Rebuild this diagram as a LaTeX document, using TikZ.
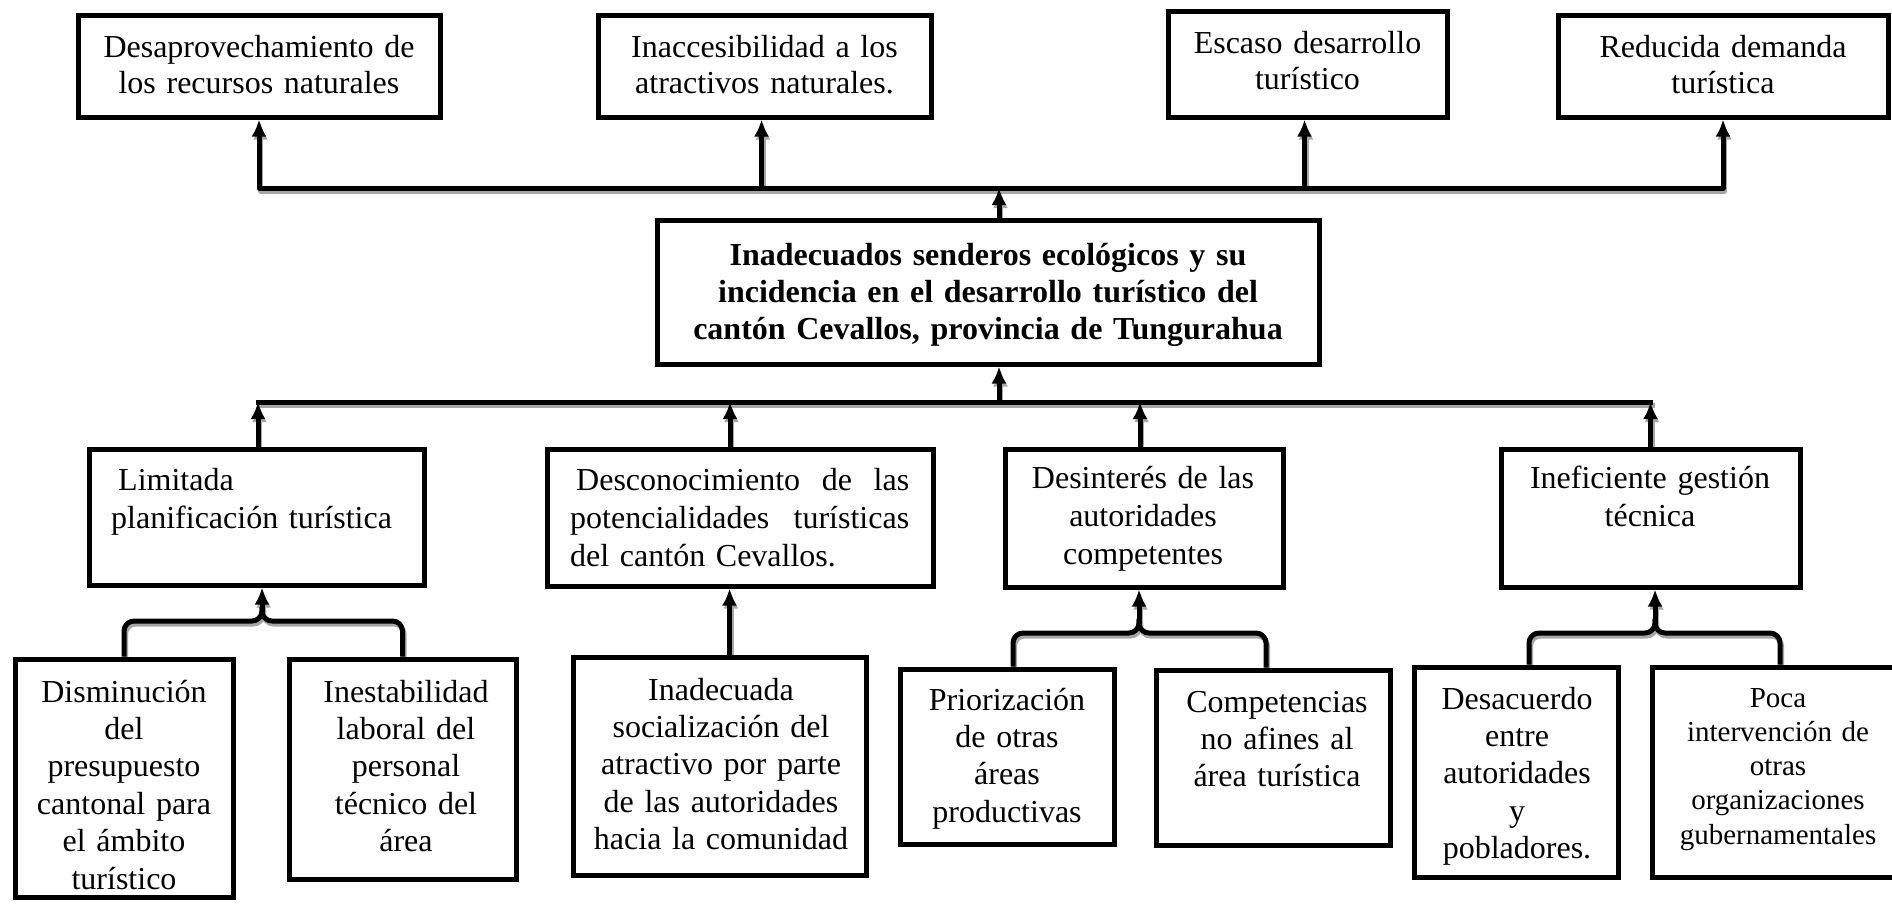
\documentclass[tikz,border=0pt]{standalone}
\usepackage{fontspec}
\setmainfont{Liberation Serif}
\usetikzlibrary{arrows.meta}
\pgfdeclarelayer{bg}
\pgfsetlayers{bg,main}
\newcommand\myftop{\fontsize{32}{36}\selectfont}
\newcommand\myfmain{\fontsize{32}{37.4}\selectfont}
\newcommand\myfmid{\fontsize{32}{38}\selectfont}
\newcommand\myfsml{\fontsize{29}{34.3}\selectfont}
\newcommand\drawconns[1]{%
\draw[#1,tips] (b1.south) -- (b1.south |- bus1) -- (b4.south |- bus1) -- (b4.south);
\draw[#1,tip] ([xshift=-3pt]b2.south |- bus1) -- ([xshift=-3pt]b2.south);
\draw[#1,tip] ([xshift=-3pt]b3.south |- bus1) -- ([xshift=-3pt]b3.south);
\draw[#1,tip] ([xshift=11pt]c.north) -- ([xshift=11pt]c.north |- bus1);
\draw[#1,tip] ([xshift=11pt]c.south |- bus2) -- ([xshift=11pt]c.south);
\draw[#1,line cap=rect] ([xshift=1.5pt]l1.north |- bus2) -- (l4.north |- bus2);
\draw[#1,tip] ([xshift=1.5pt]l1.north) -- ([xshift=1.5pt]l1.north |- bus2);
\draw[#1,tip] ([xshift=-10pt]l2.north) -- ([xshift=-10pt]l2.north |- bus2);
\draw[#1,tip] ([xshift=-4pt]l3.north) -- ([xshift=-4pt]l3.north |- bus2);
\draw[#1,tip] (l4.north) -- (l4.north |- bus2);
% bracket Limitada
\draw[#1,rounded corners=10pt] (d1.north) -- (d1.north |- j1) -- (j1) -- ++(0,-14);
\draw[#1,rounded corners=10pt] (d2.north) -- (d2.north |- j1) -- (j1) -- ++(0,-14);
\draw[#1,tip] ([yshift=8pt]j1) -- (j1 |- l1.south);
% Desconocimiento
\draw[#1,tip] ([xshift=10pt]d3.north) -- ([xshift=10pt]d3.north |- l2.south);
% bracket Desinteres
\draw[#1,rounded corners=10pt] ([xshift=6pt]d4.north) -- ([xshift=6pt]d4.north |- j2) -- (j2) -- ++(0,-14);
\draw[#1,rounded corners=10pt] ([xshift=-7pt]d5.north) -- ([xshift=-7pt]d5.north |- j2) -- (j2) -- ++(0,-14);
\draw[#1,tip] ([yshift=8pt]j2) -- (j2 |- l3.south);
% bracket Ineficiente
\draw[#1,rounded corners=10pt] ([xshift=13pt]d6.north) -- ([xshift=13pt]d6.north |- j3) -- (j3) -- ++(0,-14);
\draw[#1,rounded corners=10pt] ([xshift=2pt]d7.north) -- ([xshift=2pt]d7.north |- j3) -- (j3) -- ++(0,-14);
\draw[#1,tip] ([yshift=8pt]j3) -- (j3 |- l4.south);
}
\begin{document}
\begin{tikzpicture}[x=1pt,y=-1pt,
  box/.style={draw=black, line width=5pt, fill=white, inner sep=0pt},
  txt/.style={inner sep=0pt, anchor=base, align=center, font=\myfmain},
  blackline/.style={draw=black, line width=5pt, line join=round},
  shadowline/.style={draw=black!35, line width=5pt, line join=round, transform canvas={shift={(1.5pt,-3pt)}}},
  tip/.style={-{Latex[length=17pt,width=15pt]}},
  tips/.style={{Latex[length=17pt,width=15pt]}-{Latex[length=17pt,width=15pt]}},
]
\useasboundingbox (0,0) rectangle (1892,903);

\coordinate (bus1) at (0,188);
\coordinate (bus2) at (0,402);
\coordinate (j1) at (262,621);
\coordinate (j2) at (1139,633);
\coordinate (j3) at (1655,633);

% boxes
\node[box, minimum width=362, minimum height=102] (b1) at (259,66) {};
\node[box, minimum width=333, minimum height=102] (b2) at (764.5,66) {};
\node[box, minimum width=279, minimum height=106] (b3) at (1307.5,64) {};
\node[box, minimum width=330, minimum height=102] (b4) at (1723,66) {};
\node[box, minimum width=662, minimum height=144] (c) at (988,292) {};
\node[box, minimum width=335, minimum height=136] (l1) at (256.5,517) {};
\node[box, minimum width=386, minimum height=137] (l2) at (740,517.5) {};
\node[box, minimum width=278, minimum height=138] (l3) at (1144,518) {};
\node[box, minimum width=299, minimum height=138] (l4) at (1650.5,518) {};
\node[box, minimum width=218, minimum height=238] (d1) at (124,778) {};
\node[box, minimum width=227, minimum height=220] (d2) at (402.5,769) {};
\node[box, minimum width=293, minimum height=218] (d3) at (719.5,766) {};
\node[box, minimum width=214, minimum height=175] (d4) at (1007,756.5) {};
\node[box, minimum width=234, minimum height=175] (d5) at (1273,757.5) {};
\node[box, minimum width=204, minimum height=210] (d6) at (1516,772) {};
\node[box, minimum width=252, minimum height=210] (d7) at (1778,772) {};

% texts
\node[txt, font=\myftop, text width=360] (b1t) at (259,57) {Desaprovechamiento de\\los recursos naturales};
\node[txt, font=\myftop, text width=330] (b2t) at (764.5,57) {Inaccesibilidad a los\\atractivos naturales.};
\node[txt, font=\myftop, text width=278] (b3t) at (1307.5,53) {Escaso desarrollo\\turístico};
\node[txt, font=\myftop, text width=330] (b4t) at (1723,57) {Reducida demanda\\turística};
\node[txt, font=\myfmain\bfseries, text width=660] (ct) at (988,265) {Inadecuados senderos ecológicos y su\\incidencia en el desarrollo turístico del\\cantón Cevallos, provincia de Tungurahua};

\node[txt, font=\myfmid, anchor=base west, align=left, text width=300] (l1t) at (111,490) {\hspace*{7pt}Limitada\\planificación turística};
\node[txt, font=\myfmid, anchor=base west, align=left, text width=339] (l2t) at (570,490) {\hspace*{6pt}Desconocimiento\hfill de\hfill las\\potencialidades\hfill turísticas\\del cantón Cevallos.};
\node[txt, font=\myfmid, text width=270] (l3t) at (1143,488) {Desinterés de las\\autoridades\\competentes};
\node[txt, font=\myfmid, text width=290] (l4t) at (1650,488) {Ineficiente gestión\\técnica};

\node[txt, text width=215] (d1t) at (124,702) {Disminución\\del\\presupuesto\\cantonal para\\el ámbito\\turístico};
\node[txt, text width=225] (d2t) at (406,702) {Inestabilidad\\laboral del\\personal\\técnico del\\área};
\node[txt, text width=290] (d3t) at (721,700) {Inadecuada\\socialización del\\atractivo por parte\\de las autoridades\\hacia la comunidad};
\node[txt, text width=210] (d4t) at (1007,710) {Priorización\\de otras\\áreas\\productivas};
\node[txt, text width=230] (d5t) at (1277,712) {Competencias\\no afines al\\área turística};
\node[txt, text width=200] (d6t) at (1517,709) {Desacuerdo\\entre\\autoridades\\y\\pobladores.};
\node[txt, font=\myfsml, text width=250] (d7t) at (1778,707) {Poca\\intervención de\\otras\\organizaciones\\gubernamentales};

\begin{pgfonlayer}{bg}
\fill[white] (0,0) rectangle (1892,903);
\drawconns{shadowline}
\drawconns{blackline}
\end{pgfonlayer}
\end{tikzpicture}
\end{document}
